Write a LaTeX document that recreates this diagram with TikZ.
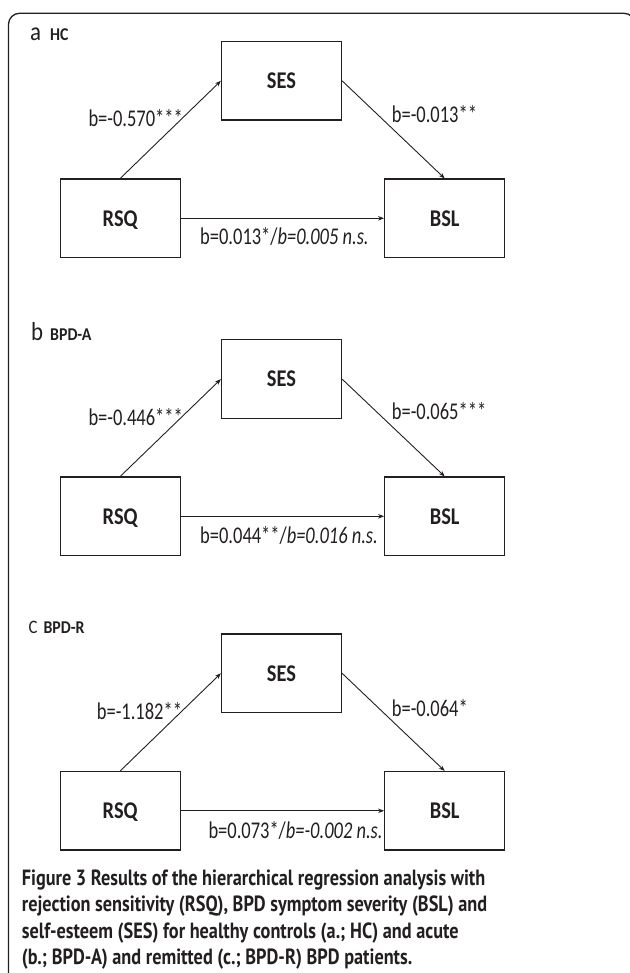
\documentclass[tikz,border=0pt]{standalone}
\usepackage{fontspec}
\setmainfont{Carlito}
\newfontfamily\labfont[FakeStretch=0.77]{Carlito}
\newfontfamily\boxfont[FakeStretch=0.85]{Carlito}
\newfontfamily\tagfont[FakeStretch=0.88]{Carlito}
\newfontfamily\capfont[FakeStretch=0.83]{PT Sans}
\usetikzlibrary{arrows.meta}
\definecolor{ink}{HTML}{231F20}
\tikzset{
  var/.style={draw=ink, line width=1.2pt, minimum width=120pt, minimum height=78.5pt,
    inner sep=0pt, text height=15.5pt, text depth=0pt, font=\boxfont\fontsize{24}{28}\selectfont\bfseries, text=ink},
  lab/.style={anchor=base west, inner sep=0pt, font=\labfont\fontsize{24}{28}\selectfont, text=ink},
  conn/.style={draw=ink, line width=0.9pt, -{Stealth[length=6pt,width=4.5pt]}},
  panel/.style={anchor=base west, inner sep=0pt, font=\tagfont\fontsize{26}{28}\selectfont, text=ink},
  ptag/.style={anchor=base west, inner sep=0pt, font=\tagfont\fontsize{18}{22}\selectfont\bfseries, text=ink},
  capline/.style={anchor=base west, inner sep=0pt, font=\capfont\fontsize{22}{26}\selectfont\bfseries, text=ink}
}
\begin{document}
\begin{tikzpicture}[x=1pt,y=-1pt]
\useasboundingbox (0,0) rectangle (629,973);
% frame
\draw[ink, line width=1.3pt, rounded corners=11pt] (8.5,990) -- (8.5,13.3) -- (635,13.3) -- (635,990);

% ---------- panel a ----------
\node[panel] (pa) at (30,40.5) {a};
\node[ptag] (ta) at (50,40.5) {HC};
\node[var] (sesA) at (281.5,80.8) {SES};
\node[var] (rsqA) at (120.2,218.3) {RSQ};
\node[var] (bslA) at (444.7,218.3) {BSL};
\draw[conn] (rsqA.north) -- (sesA.west);
\draw[conn] (sesA.east) -- (bslA.north);
\draw[conn] (rsqA.east) -- (bslA.west);
\node[lab] (la1) at (88.3,126.5) {b=-0.570***};
\node[lab] (la2) at (391.7,122.5) {b=-0.013**};
\node[lab] (la3) at (200,244.7) {b=0.013*/\textit{b=0.005 n.s.}};

% ---------- panel b ----------
\node[panel] (pb) at (31,340) {b};
\node[ptag] (tb) at (50,340) {BPD-A};
\node[var] (sesB) at (281.5,379.1) {SES};
\node[var] (rsqB) at (120.2,516.3) {RSQ};
\node[var] (bslB) at (444.7,516.3) {BSL};
\draw[conn] (rsqB.north) -- (sesB.west);
\draw[conn] (sesB.east) -- (bslB.north);
\draw[conn] (rsqB.east) -- (bslB.west);
\node[lab] (lb1) at (88.3,425.7) {b=-0.446***};
\node[lab] (lb2) at (391.7,419.7) {b=-0.065***};
\node[lab] (lb3) at (200,543) {b=0.044**/\textit{b=0.016 n.s.}};

% ---------- panel c ----------
\node[ptag, font=\tagfont\fontsize{19}{22}\selectfont] (pc) at (28.3,633) {C};
\node[ptag] (tc) at (43.3,633) {BPD-R};
\node[var] (sesC) at (281.5,673.3) {SES};
\node[var] (rsqC) at (120.2,810.8) {RSQ};
\node[var] (bslC) at (444.7,810.8) {BSL};
\draw[conn] (rsqC.north) -- (sesC.west);
\draw[conn] (sesC.east) -- (bslC.north);
\draw[conn] (rsqC.east) -- (bslC.west);
\node[lab] (lc1) at (96.7,719.7) {b=-1.182**};
\node[lab] (lc2) at (391.7,716.3) {b=-0.064*};
\node[lab] (lc3) at (208.3,838) {b=0.073*/\textit{b=-0.002 n.s.}};

% ---------- caption ----------
\node[capline] (cap1) at (21.7,885) {Figure 3 Results of the hierarchical regression analysis with};
\node[capline] (cap2) at (21.7,911.6) {rejection sensitivity (RSQ), BPD symptom severity (BSL) and};
\node[capline] (cap3) at (21.7,938.2) {self-esteem (SES) for healthy controls (a.; HC) and acute};
\node[capline] (cap4) at (21.7,964.8) {(b.; BPD-A) and remitted (c.; BPD-R) BPD patients.};
\end{tikzpicture}
\end{document}
